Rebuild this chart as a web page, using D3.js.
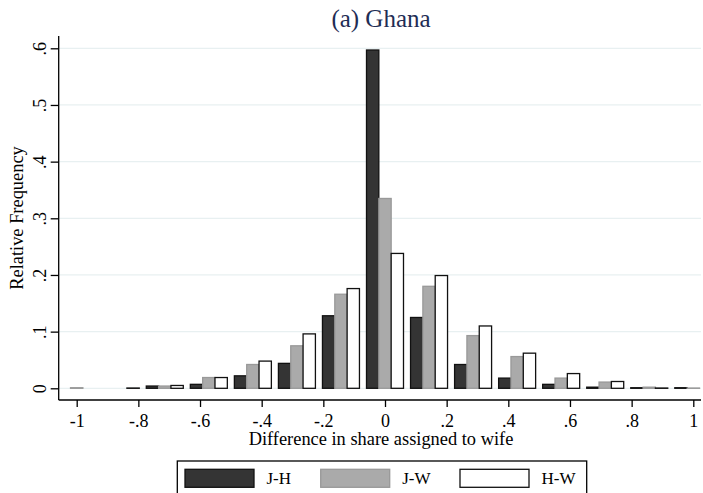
<!DOCTYPE html>
<html lang="en">
<head>
<meta charset="UTF-8">
<title>Ghana histogram</title>
<script src="https://cdnjs.cloudflare.com/ajax/libs/d3/7.8.5/d3.min.js"></script>
<style>
  body { margin: 0; background: #fff; }
  svg { display: block; font-family: "Liberation Serif", "Times New Roman", serif; }
</style>
</head>
<body>
<svg id="chart" width="703" height="493"></svg>
<script>
// bin centres are k/7, k = -7..7
var bins = [-7, -6, -5, -4, -3, -2, -1, 0, 1, 2, 3, 4, 5, 6, 7];
var seriesNames = ["J-H", "J-W", "H-W"];
var jh = [0, 0, 0.004, 0.007, 0.022, 0.044, 0.128, 0.597, 0.125, 0.042, 0.018, 0.007, 0.002, 0.001, 0.001];
var jw = [0.001, 0, 0.004, 0.019, 0.042, 0.075, 0.166, 0.335, 0.180, 0.093, 0.056, 0.018, 0.011, 0.002, 0.0005];
var hw = [0, 0.0005, 0.005, 0.019, 0.048, 0.096, 0.176, 0.238, 0.199, 0.110, 0.062, 0.026, 0.012, 0.0005, 0];
var xTicks = [-1, -0.8, -0.6, -0.4, -0.2, 0, 0.2, 0.4, 0.6, 0.8, 1];
var yTicks = [0, 0.1, 0.2, 0.3, 0.4, 0.5, 0.6];

var svg = d3.select("#chart");
var x = d3.scaleLinear().domain([-1, 1]).range([76.7, 693.3]);
var y = d3.scaleLinear().domain([0, 0.6]).range([388.3, 48.3]);
var plotLeft = 58.7, plotRight = 701, plotTop = 36, plotBottom = 400;

// Stata style labels: 0, .1, -.8
function fmt(v) {
  var s = String(+v.toFixed(2));
  return s.replace(/^0\./, ".").replace(/^-0\./, "-.");
}

// gridlines
svg.append("g").selectAll("line").data(yTicks).enter().append("line")
  .attr("x1", plotLeft).attr("x2", plotRight)
  .attr("y1", function (d) { return y(d); }).attr("y2", function (d) { return y(d); })
  .attr("stroke", "#e8f0f1").attr("stroke-width", 1.2);

// bars
var offsets = [-0.04, 0, 0.04];
var fills = ["#343434", "#aaaaaa", "#ffffff"];
var strokes = ["#111111", "#999999", "#111111"];
var bw = x(0.04) - x(0);
[jh, jw, hw].forEach(function (vals, s) {
  svg.append("g").selectAll("rect").data(vals).enter().append("rect")
    .attr("x", function (d, i) { return x(bins[i] / 7 + offsets[s]) - bw / 2; })
    .attr("width", bw)
    .attr("y", function (d) { return y(d); })
    .attr("height", function (d) { return y(0) - y(d); })
    .attr("fill", fills[s])
    .attr("stroke", strokes[s])
    .attr("stroke-width", 1.3);
});

// x axis
var xAxis = d3.axisBottom(x).tickValues(xTicks).tickFormat(fmt).tickSize(7).tickSizeOuter(0);
var gx = svg.append("g").attr("transform", "translate(0," + plotBottom + ")").call(xAxis);
gx.select(".domain").remove();
gx.append("line").attr("x1", plotLeft).attr("x2", plotRight).attr("stroke", "#000").attr("stroke-width", 1.3);
gx.selectAll(".tick line").attr("stroke", "#000").attr("stroke-width", 1.3);
gx.selectAll(".tick text").attr("font-size", 18).attr("font-family", "Liberation Serif").attr("fill", "#000").attr("y", 14).attr("dy", "0.71em");

// y axis
var yAxis = d3.axisLeft(y).tickValues(yTicks).tickFormat(fmt).tickSize(8).tickSizeOuter(0);
var gy = svg.append("g").attr("transform", "translate(" + plotLeft + ",0)").call(yAxis);
gy.select(".domain").remove();
gy.append("line").attr("y1", plotTop).attr("y2", plotBottom).attr("stroke", "#000").attr("stroke-width", 1.3);
gy.selectAll(".tick line").attr("stroke", "#000").attr("stroke-width", 1.3);
gy.selectAll(".tick text")
  .attr("font-size", 18).attr("font-family", "Liberation Serif").attr("fill", "#000")
  .attr("x", null).attr("dy", null)
  .attr("text-anchor", "middle")
  .attr("transform", "translate(-13,0) rotate(-90)");

// titles
svg.append("text").attr("x", 381).attr("y", 27).attr("text-anchor", "middle")
  .attr("font-size", 25).attr("fill", "#1f2d55").text("(a) Ghana");
svg.append("text").attr("x", 381).attr("y", 445).attr("text-anchor", "middle")
  .attr("font-size", 18.4).attr("fill", "#000").text("Difference in share assigned to wife");
svg.append("text").attr("transform", "translate(23,218) rotate(-90)").attr("text-anchor", "middle")
  .attr("font-size", 18.4).attr("fill", "#000").text("Relative Frequency");

// legend
var lg = svg.append("g");
lg.append("rect").attr("x", 177.3).attr("y", 461).attr("width", 409.4).attr("height", 40)
  .attr("fill", "#fff").attr("stroke", "#000").attr("stroke-width", 1.3);
var swX = [185, 320.7, 460];
seriesNames.forEach(function (name, s) {
  lg.append("rect").attr("x", swX[s]).attr("y", 469.3).attr("width", 69).attr("height", 18)
    .attr("fill", fills[s]).attr("stroke", strokes[s]).attr("stroke-width", 1.3);
  lg.append("text").attr("x", swX[s] + 81.5).attr("y", 484).attr("font-size", 17).attr("fill", "#000").text(name);
});
</script>
</body>
</html>
